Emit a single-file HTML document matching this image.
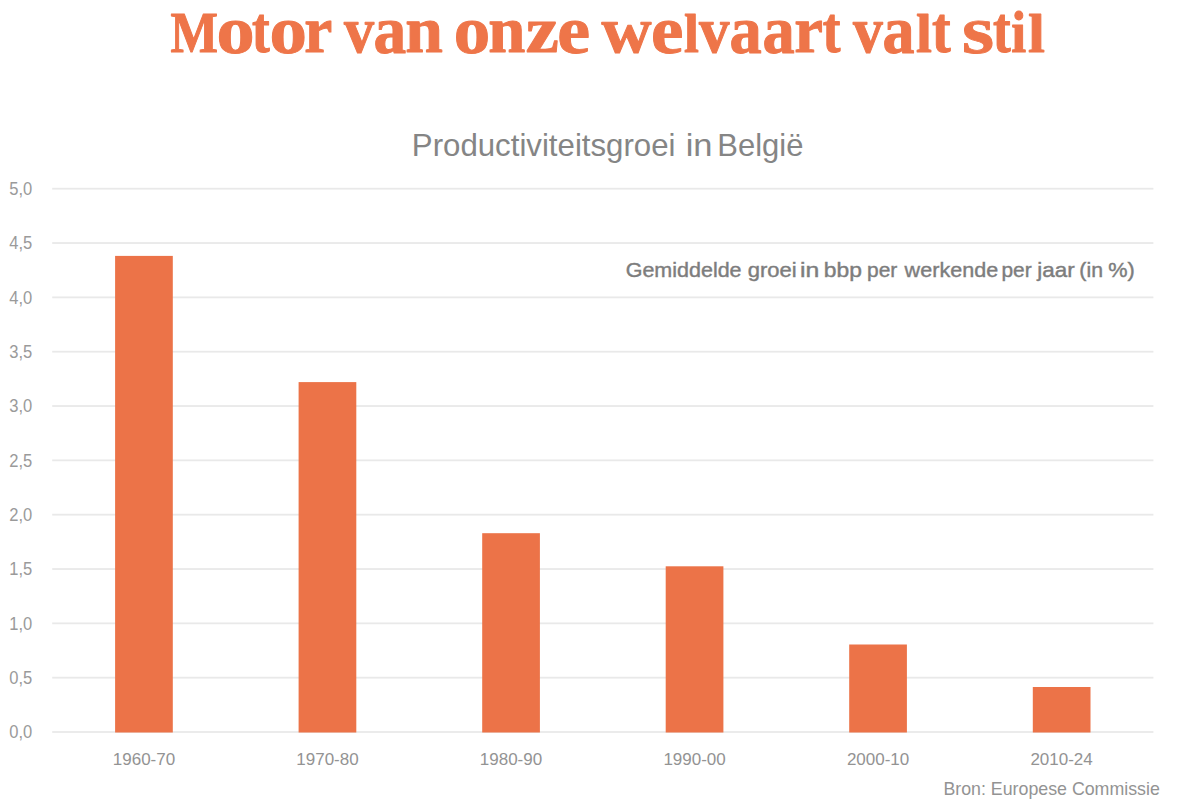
<!DOCTYPE html>
<html><head><meta charset="utf-8"><title>Motor van onze welvaart valt stil</title>
<style>html,body{margin:0;padding:0;background:#fff;}body{width:1190px;height:810px;overflow:hidden;}svg{display:block;}text{font-family:"Liberation Sans",sans-serif;}.t{font-family:"Liberation Serif",serif;font-weight:bold;}</style></head><body>
<svg width="1190" height="810" viewBox="0 0 1190 810">
<rect width="1190" height="810" fill="#ffffff"/>
<g aria-label="Motor van onze welvaart valt stil">
<text class="t" transform="matrix(0.5034 0 0 0.5681 170.54 52.40)" font-size="100" fill="#ee7549" stroke="#ee7549" stroke-width="1.87" stroke-linejoin="round">M</text>
<text class="t" transform="matrix(0.7621 0 0 0.6757 216.40 52.64)" font-size="100" fill="#ee7549" stroke="#ee7549" stroke-width="1.39" stroke-linejoin="round">o</text>
<text class="t" transform="matrix(0.5312 0 0 0.6565 252.04 52.46)" font-size="100" fill="#ee7549" stroke="#ee7549" stroke-width="1.68" stroke-linejoin="round">t</text>
<text class="t" transform="matrix(0.7479 0 0 0.6757 269.45 52.64)" font-size="100" fill="#ee7549" stroke="#ee7549" stroke-width="1.40" stroke-linejoin="round">o</text>
<text class="t" transform="matrix(0.6321 0 0 0.6566 304.20 52.40)" font-size="100" fill="#ee7549" stroke="#ee7549" stroke-width="1.55" stroke-linejoin="round">r</text>
<text class="t" transform="matrix(0.6020 0 0 0.6613 343.90 52.35)" font-size="100" fill="#ee7549" stroke="#ee7549" stroke-width="1.58" stroke-linejoin="round">v</text>
<text class="t" transform="matrix(0.6539 0 0 0.6764 373.39 52.54)" font-size="100" fill="#ee7549" stroke="#ee7549" stroke-width="1.50" stroke-linejoin="round">a</text>
<text class="t" transform="matrix(0.6768 0 0 0.6643 405.18 52.40)" font-size="100" fill="#ee7549" stroke="#ee7549" stroke-width="1.49" stroke-linejoin="round">n</text>
<text class="t" transform="matrix(0.7291 0 0 0.6757 453.72 52.64)" font-size="100" fill="#ee7549" stroke="#ee7549" stroke-width="1.42" stroke-linejoin="round">o</text>
<text class="t" transform="matrix(0.6671 0 0 0.6643 488.31 52.40)" font-size="100" fill="#ee7549" stroke="#ee7549" stroke-width="1.50" stroke-linejoin="round">n</text>
<text class="t" transform="matrix(0.7456 0 0 0.6623 525.64 52.40)" font-size="100" fill="#ee7549" stroke="#ee7549" stroke-width="1.42" stroke-linejoin="round">z</text>
<text class="t" transform="matrix(0.7400 0 0 0.6778 557.27 52.67)" font-size="100" fill="#ee7549" stroke="#ee7549" stroke-width="1.41" stroke-linejoin="round">e</text>
<text class="t" transform="matrix(0.6934 0 0 0.6613 601.60 52.35)" font-size="100" fill="#ee7549" stroke="#ee7549" stroke-width="1.48" stroke-linejoin="round">w</text>
<text class="t" transform="matrix(0.7296 0 0 0.6778 651.01 52.67)" font-size="100" fill="#ee7549" stroke="#ee7549" stroke-width="1.42" stroke-linejoin="round">e</text>
<text class="t" transform="matrix(0.5348 0 0 0.5534 683.96 52.40)" font-size="100" fill="#ee7549" stroke="#ee7549" stroke-width="1.84" stroke-linejoin="round">l</text>
<text class="t" transform="matrix(0.6080 0 0 0.6613 699.10 52.35)" font-size="100" fill="#ee7549" stroke="#ee7549" stroke-width="1.58" stroke-linejoin="round">v</text>
<text class="t" transform="matrix(0.6451 0 0 0.6764 729.62 52.54)" font-size="100" fill="#ee7549" stroke="#ee7549" stroke-width="1.51" stroke-linejoin="round">a</text>
<text class="t" transform="matrix(0.6451 0 0 0.6764 762.42 52.54)" font-size="100" fill="#ee7549" stroke="#ee7549" stroke-width="1.51" stroke-linejoin="round">a</text>
<text class="t" transform="matrix(0.6473 0 0 0.6566 794.16 52.40)" font-size="100" fill="#ee7549" stroke="#ee7549" stroke-width="1.53" stroke-linejoin="round">r</text>
<text class="t" transform="matrix(0.5312 0 0 0.6565 822.84 52.46)" font-size="100" fill="#ee7549" stroke="#ee7549" stroke-width="1.68" stroke-linejoin="round">t</text>
<text class="t" transform="matrix(0.5960 0 0 0.6613 853.10 52.35)" font-size="100" fill="#ee7549" stroke="#ee7549" stroke-width="1.59" stroke-linejoin="round">v</text>
<text class="t" transform="matrix(0.6407 0 0 0.6764 882.44 52.54)" font-size="100" fill="#ee7549" stroke="#ee7549" stroke-width="1.52" stroke-linejoin="round">a</text>
<text class="t" transform="matrix(0.5721 0 0 0.5534 916.08 52.40)" font-size="100" fill="#ee7549" stroke="#ee7549" stroke-width="1.78" stroke-linejoin="round">l</text>
<text class="t" transform="matrix(0.5600 0 0 0.6565 932.00 52.46)" font-size="100" fill="#ee7549" stroke="#ee7549" stroke-width="1.64" stroke-linejoin="round">t</text>
<text class="t" transform="matrix(0.8252 0 0 0.6757 961.90 52.64)" font-size="100" fill="#ee7549" stroke="#ee7549" stroke-width="1.33" stroke-linejoin="round">s</text>
<text class="t" transform="matrix(0.5312 0 0 0.6565 993.04 52.46)" font-size="100" fill="#ee7549" stroke="#ee7549" stroke-width="1.68" stroke-linejoin="round">t</text>
<text class="t" transform="matrix(0.5348 0 0 0.5967 1011.22 52.40)" font-size="100" fill="#ee7549" stroke="#ee7549" stroke-width="1.77" stroke-linejoin="round">i</text>
<text class="t" transform="matrix(0.6094 0 0 0.5534 1027.91 52.40)" font-size="100" fill="#ee7549" stroke="#ee7549" stroke-width="1.72" stroke-linejoin="round">l</text>
</g>
<g aria-label="Productiviteitsgroei in België">
<text x="411.84" y="155.6" font-size="31.4" fill="#858585" textLength="263.66" lengthAdjust="spacingAndGlyphs">Productiviteitsgroei</text>
<text x="685.69" y="155.6" font-size="31.4" fill="#858585" textLength="26.85" lengthAdjust="spacingAndGlyphs">in</text>
<text x="717.26" y="155.6" font-size="31.4" fill="#858585" textLength="86.12" lengthAdjust="spacingAndGlyphs">België</text>
</g>
<rect x="52.2" y="731.10" width="1101.2" height="1.8" fill="#e9e9e9"/>
<text x="9.3" y="738.2" font-size="17.5" fill="#9a9a9a" textLength="23" lengthAdjust="spacingAndGlyphs">0,0</text>
<rect x="52.2" y="676.77" width="1101.2" height="1.8" fill="#e9e9e9"/>
<text x="9.3" y="683.9" font-size="17.5" fill="#9a9a9a" textLength="23" lengthAdjust="spacingAndGlyphs">0,5</text>
<rect x="52.2" y="622.44" width="1101.2" height="1.8" fill="#e9e9e9"/>
<text x="9.3" y="629.5" font-size="17.5" fill="#9a9a9a" textLength="23" lengthAdjust="spacingAndGlyphs">1,0</text>
<rect x="52.2" y="568.11" width="1101.2" height="1.8" fill="#e9e9e9"/>
<text x="9.3" y="575.2" font-size="17.5" fill="#9a9a9a" textLength="23" lengthAdjust="spacingAndGlyphs">1,5</text>
<rect x="52.2" y="513.78" width="1101.2" height="1.8" fill="#e9e9e9"/>
<text x="9.3" y="520.9" font-size="17.5" fill="#9a9a9a" textLength="23" lengthAdjust="spacingAndGlyphs">2,0</text>
<rect x="52.2" y="459.45" width="1101.2" height="1.8" fill="#e9e9e9"/>
<text x="9.3" y="466.6" font-size="17.5" fill="#9a9a9a" textLength="23" lengthAdjust="spacingAndGlyphs">2,5</text>
<rect x="52.2" y="405.12" width="1101.2" height="1.8" fill="#e9e9e9"/>
<text x="9.3" y="412.2" font-size="17.5" fill="#9a9a9a" textLength="23" lengthAdjust="spacingAndGlyphs">3,0</text>
<rect x="52.2" y="350.79" width="1101.2" height="1.8" fill="#e9e9e9"/>
<text x="9.3" y="357.9" font-size="17.5" fill="#9a9a9a" textLength="23" lengthAdjust="spacingAndGlyphs">3,5</text>
<rect x="52.2" y="296.46" width="1101.2" height="1.8" fill="#e9e9e9"/>
<text x="9.3" y="303.6" font-size="17.5" fill="#9a9a9a" textLength="23" lengthAdjust="spacingAndGlyphs">4,0</text>
<rect x="52.2" y="242.13" width="1101.2" height="1.8" fill="#e9e9e9"/>
<text x="9.3" y="249.2" font-size="17.5" fill="#9a9a9a" textLength="23" lengthAdjust="spacingAndGlyphs">4,5</text>
<rect x="52.2" y="187.80" width="1101.2" height="1.8" fill="#e9e9e9"/>
<text x="9.3" y="194.9" font-size="17.5" fill="#9a9a9a" textLength="23" lengthAdjust="spacingAndGlyphs">5,0</text>
<rect x="115.1" y="255.9" width="57.7" height="476.6" fill="#ec7348"/>
<text x="144.0" y="765.4" font-size="17" fill="#939393" text-anchor="middle">1960-70</text>
<rect x="298.6" y="382.1" width="57.7" height="350.4" fill="#ec7348"/>
<text x="327.5" y="765.4" font-size="17" fill="#939393" text-anchor="middle">1970-80</text>
<rect x="482.2" y="533.2" width="57.7" height="199.3" fill="#ec7348"/>
<text x="511.0" y="765.4" font-size="17" fill="#939393" text-anchor="middle">1980-90</text>
<rect x="665.7" y="566.3" width="57.7" height="166.2" fill="#ec7348"/>
<text x="694.6" y="765.4" font-size="17" fill="#939393" text-anchor="middle">1990-00</text>
<rect x="849.2" y="644.5" width="57.7" height="88.0" fill="#ec7348"/>
<text x="878.1" y="765.4" font-size="17" fill="#939393" text-anchor="middle">2000-10</text>
<rect x="1032.8" y="687.0" width="57.7" height="45.5" fill="#ec7348"/>
<text x="1061.6" y="765.4" font-size="17" fill="#939393" text-anchor="middle">2010-24</text>
<g aria-label="Gemiddelde groei in bbp per werkende per jaar (in %)">
<text x="625.72" y="277.4" font-size="20.2" fill="#7d7d7d" textLength="115.83" lengthAdjust="spacingAndGlyphs" stroke="#7d7d7d" stroke-width="0.4">Gemiddelde</text>
<text x="747.68" y="277.4" font-size="20.2" fill="#7d7d7d" textLength="48.91" lengthAdjust="spacingAndGlyphs" stroke="#7d7d7d" stroke-width="0.4">groei</text>
<text x="800.14" y="277.4" font-size="20.2" fill="#7d7d7d" textLength="19.26" lengthAdjust="spacingAndGlyphs" stroke="#7d7d7d" stroke-width="0.4">in</text>
<text x="823.73" y="277.4" font-size="20.2" fill="#7d7d7d" textLength="38.13" lengthAdjust="spacingAndGlyphs" stroke="#7d7d7d" stroke-width="0.4">bbp</text>
<text x="867.05" y="277.4" font-size="20.2" fill="#7d7d7d" textLength="30.30" lengthAdjust="spacingAndGlyphs" stroke="#7d7d7d" stroke-width="0.4">per</text>
<text x="904.63" y="277.4" font-size="20.2" fill="#7d7d7d" textLength="93.53" lengthAdjust="spacingAndGlyphs" stroke="#7d7d7d" stroke-width="0.4">werkende</text>
<text x="1001.45" y="277.4" font-size="20.2" fill="#7d7d7d" textLength="30.19" lengthAdjust="spacingAndGlyphs" stroke="#7d7d7d" stroke-width="0.4">per</text>
<text x="1037.35" y="277.4" font-size="20.2" fill="#7d7d7d" textLength="37.42" lengthAdjust="spacingAndGlyphs" stroke="#7d7d7d" stroke-width="0.4">jaar</text>
<text x="1079.38" y="277.4" font-size="20.2" fill="#7d7d7d" textLength="23.60" lengthAdjust="spacingAndGlyphs" stroke="#7d7d7d" stroke-width="0.4">(in</text>
<text x="1108.23" y="277.4" font-size="20.2" fill="#7d7d7d" textLength="26.52" lengthAdjust="spacingAndGlyphs" stroke="#7d7d7d" stroke-width="0.4">%)</text>
</g>
<text x="943.4" y="794.5" font-size="17.8" fill="#939393">Bron: Europese Commissie</text>
</svg></body></html>
